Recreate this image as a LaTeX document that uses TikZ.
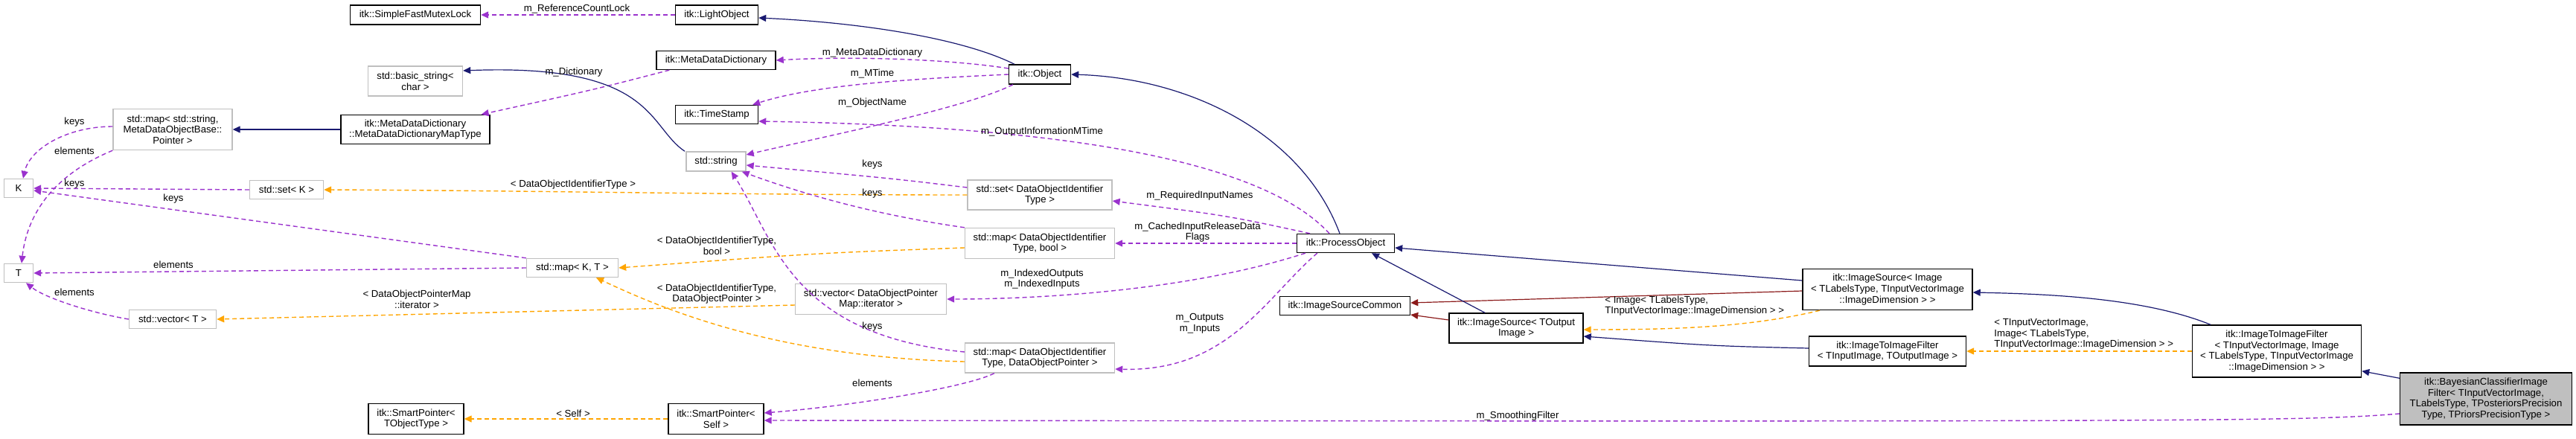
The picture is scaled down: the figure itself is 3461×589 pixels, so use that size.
\documentclass[tikz,border=0pt]{standalone}
\usepackage{fontspec}
\setmainfont{Liberation Sans}
\usetikzlibrary{arrows.meta}
\definecolor{navy}{RGB}{25,25,112}
\definecolor{purp}{RGB}{154,50,205}
\definecolor{orng}{RGB}{255,165,0}
\definecolor{dred}{RGB}{139,26,26}
\definecolor{gbord}{RGB}{191,191,191}
\definecolor{gfill}{RGB}{191,191,191}
\begin{document}
\begin{tikzpicture}[x=0.5pt,y=-0.5pt,
  font=\fontsize{6.6}{7.3}\selectfont,
  box/.style={draw=black,line width=0.7pt,align=center,inner sep=1pt,fill=white},
  gbox/.style={draw=gbord,line width=0.7pt,align=center,inner sep=1pt,fill=white},
  tip/.style={-{Triangle[length=5pt,width=4.5pt]}},
  use/.style={tip,draw=purp,dashed,dash pattern=on 3pt off 2pt,line width=0.7pt},
  tpl/.style={tip,draw=orng,dashed,dash pattern=on 3pt off 2pt,line width=0.7pt},
  inh/.style={tip,draw=navy,line width=0.6pt},
  inr/.style={tip,draw=dred,line width=0.6pt},
  lab/.style={align=center,inner sep=0pt},
  labl/.style={align=left,inner sep=0pt,anchor=west}]
\useasboundingbox (0,0) rectangle (3461,589);
% nodes
\node[box,minimum width=87.5pt,minimum height=13pt] (sfm) at (558,20) {itk::SimpleFastMutexLock};
\node[box,minimum width=55.5pt,minimum height=13pt] (lobj) at (963,20) {itk::LightObject};
\node[box,minimum width=80pt,minimum height=12.5pt] (mdd) at (962,81) {itk::MetaDataDictionary};
\node[box,minimum width=41.5pt,minimum height=13pt] (obj) at (1397,100) {itk::Object};
\node[box,minimum width=55.5pt,minimum height=12.5pt] (ts) at (963,154) {itk::TimeStamp};
\node[gbox,minimum width=40pt,minimum height=13pt] (str) at (962,217) {std::string};
\node[gbox,minimum width=63.5pt,minimum height=20pt] (bstr) at (558,109) {std::basic\_string\textless\\char \textgreater};
\node[gbox,minimum width=80pt,minimum height=27.5pt] (mapss) at (232,174) {std::map\textless{} std::string,\\MetaDataObjectBase::\\Pointer \textgreater};
\node[box,minimum width=100pt,minimum height=19.5pt] (mdmt) at (558,174) {itk::MetaDataDictionary\\::MetaDataDictionaryMapType};
\node[gbox,minimum width=19.5pt,minimum height=12.5pt] (K) at (25,253) {K};
\node[gbox,minimum width=49.5pt,minimum height=12.5pt] (setK) at (385,255) {std::set\textless{} K \textgreater};
\node[gbox,minimum width=19.5pt,minimum height=12.5pt] (T) at (25,367) {T};
\node[gbox,minimum width=61.5pt,minimum height=12.5pt] (mapKT) at (769,360) {std::map\textless{} K, T \textgreater};
\node[gbox,minimum width=58.5pt,minimum height=12.5pt] (vecT) at (232,429) {std::vector\textless{} T \textgreater};
\node[box,minimum width=64pt,minimum height=20.5pt] (spT) at (559,563) {itk::SmartPointer\textless\\TObjectType \textgreater};
\node[box,minimum width=64pt,minimum height=20.5pt] (spS) at (962,563) {itk::SmartPointer\textless\\Self \textgreater};
\node[gbox,minimum width=97pt,minimum height=20pt] (setD) at (1397,262) {std::set\textless{} DataObjectIdentifier\\Type \textgreater};
\node[gbox,minimum width=100.5pt,minimum height=20.5pt] (mapDb) at (1397,327) {std::map\textless{} DataObjectIdentifier\\Type, bool \textgreater};
\node[gbox,minimum width=101.5pt,minimum height=20.5pt] (vecD) at (1170,402) {std::vector\textless{} DataObjectPointer\\Map::iterator \textgreater};
\node[gbox,minimum width=100.5pt,minimum height=20pt] (mapDP) at (1397,481) {std::map\textless{} DataObjectIdentifier\\Type, DataObjectPointer \textgreater};
\node[box,minimum width=65.5pt,minimum height=12.5pt] (po) at (1808,327) {itk::ProcessObject};
\node[box,minimum width=87.5pt,minimum height=12.5pt] (isc) at (1807,411) {itk::ImageSourceCommon};
\node[box,minimum width=90pt,minimum height=20pt] (isT) at (2037,441) {itk::ImageSource\textless{} TOutput\\Image \textgreater};
\node[box,minimum width=114pt,minimum height=27.5pt] (isI) at (2536,389) {itk::ImageSource\textless{} Image\\\textless{} TLabelsType, TInputVectorImage\\::ImageDimension \textgreater{} \textgreater};
\node[box,minimum width=105.5pt,minimum height=20pt] (itiT) at (2536,472) {itk::ImageToImageFilter\\\textless{} TInputImage, TOutputImage \textgreater};
\node[box,minimum width=113.5pt,minimum height=35pt] (itiV) at (3059,472) {itk::ImageToImageFilter\\\textless{} TInputVectorImage, Image\\\textless{} TLabelsType, TInputVectorImage\\::ImageDimension \textgreater{} \textgreater};
\node[box,fill=gfill,minimum width=115.5pt,minimum height=35pt] (bay) at (3340,536) {itk::BayesianClassifierImage\\Filter\textless{} TInputVectorImage,\\TLabelsType, TPosteriorsPrecision\\Type, TPriorsPrecisionType \textgreater};
% edges
\draw[use] (lobj.west) -- (sfm.east);
\draw[inh] ([xshift=-17pt]obj.north) .. controls (1290,50) and (1150,30) .. ([yshift=-2pt]lobj.east);
\draw[use] ([yshift=4pt]obj.west) .. controls (1280,80) and (1150,75) .. (mdd.east);
\draw[use] (obj.west) .. controls (1250,105) and (1100,112) .. ([xshift=-4pt]ts.north east);
\draw[use] ([xshift=3pt]obj.south west) .. controls (1300,145) and (1100,185) .. ([yshift=4.5pt]str.east);
\draw[use] ([xshift=9pt]mdd.south west) .. controls (800,120) .. ([xshift=-6pt]mdmt.north east);
\draw[inh] ([xshift=-21pt]str.north) .. controls (870,170) and (880,85) .. ([yshift=7pt]bstr.east);
\draw[inh] (mdmt.west) -- (mapss.east);
\draw[use] ([yshift=2pt]mapss.west) .. controls (90,170) and (40,200) .. ([xshift=3pt]K.north);
\draw[use] (mapss.south west) .. controls (60,240) and (35,300) .. ([xshift=2pt]T.north);
\draw[use] (setK.west) -- (K.east);
\draw[use] (mapKT.north west) -- ([yshift=-1.5pt]K.east);
\draw[use] (mapKT.west) -- (T.east);
\draw[use] (vecT.west) .. controls (120,420) and (60,400) .. ([xshift=5pt]T.south);
\draw[tpl] (setD.west) .. controls (1000,262) and (700,256) .. (setK.east);
\draw[use] ([yshift=5pt]setD.west) .. controls (1200,240) .. ([yshift=-2.5pt]str.east);
\draw[use] (mapDb.north west) .. controls (1150,285) and (1050,250) .. ([xshift=-3pt]str.south east);
\draw[use] ([yshift=4pt]mapDP.west) .. controls (1060,450) and (1040,320) .. ([xshift=-10pt]str.south east);
\draw[tpl] ([yshift=-3pt]mapDb.west) .. controls (1100,340) .. (mapKT.east);
\draw[tpl] ([yshift=-2.5pt]mapDP.west) .. controls (1050,480) and (900,420) .. ([xshift=16pt]mapKT.south);
\draw[tpl] ([yshift=-4pt]vecD.west) -- (vecT.east);
\draw[use] ([xshift=20pt]mapDP.south west) .. controls (1300,520) and (1150,545) .. ([yshift=4pt]spS.east);
\draw[tpl] (spS.west) -- (spT.east);
\draw[inh] ([xshift=-4pt]po.north) .. controls (1750,180) and (1600,105) .. (obj.east);
\draw[use] ([xshift=-11pt]po.north) .. controls (1700,220) and (1450,170) .. ([yshift=-4.5pt]ts.east);
\draw[use] ([xshift=-24pt]po.north) .. controls (1650,290) .. ([yshift=-4pt]setD.east);
\draw[use] (po.west) -- (mapDb.east);
\draw[use] ([xshift=6pt]po.south west) .. controls (1600,390) and (1400,402) .. (vecD.east);
\draw[use] ([xshift=14pt]po.south west) .. controls (1700,400) and (1650,500) .. ([yshift=-7.5pt]mapDP.east);
\draw[inh] ([yshift=6pt]isI.west) -- ([yshift=-3pt]po.east);
\draw[inr] ([yshift=-1pt]isI.west) -- ([yshift=2pt]isc.east);
\draw[inr] ([yshift=5.5pt]isT.west) -- ([yshift=-6pt]isc.east);
\draw[inh] ([xshift=-21pt]isT.north) -- ([xshift=17.5pt]po.south);
\draw[tpl] ([xshift=-45.5pt]isI.south) .. controls (2350,440) and (2250,443) .. ([yshift=-1pt]isT.east);
\draw[inh] ([yshift=2pt]itiT.west) .. controls (2300,465) .. ([yshift=-5.5pt]isT.east);
\draw[tpl] (itiV.west) -- (itiT.east);
\draw[inh] ([xshift=-44.5pt]itiV.north) .. controls (2880,400) and (2750,395) .. ([yshift=-2pt]isI.east);
\draw[inh] ([yshift=-4pt]bay.north west) -- ([yshift=4.5pt]itiV.south east);
\draw[use] ([yshift=-10pt]bay.west) .. controls (3100,566) and (3000,567) .. ([yshift=-1pt]spS.east);
% labels
\node[lab] (l1) at (775,12) {m\_ReferenceCountLock};
\node[lab] (l2) at (1172,71) {m\_MetaDataDictionary};
\node[lab] (l3) at (1172,99) {m\_MTime};
\node[lab] (l4) at (1172,138) {m\_ObjectName};
\node[lab] (l5) at (771,97) {m\_Dictionary};
\node[lab] (l6) at (100,164) {keys};
\node[lab] (l7) at (100,203) {elements};
\node[lab] (l8) at (100,247) {keys};
\node[lab] (l9) at (233,267) {keys};
\node[lab] (l10) at (233,356) {elements};
\node[lab] (l11) at (100,393) {elements};
\node[lab] (l12) at (770,248) {\textless{} DataObjectIdentifierType \textgreater};
\node[lab] (l13) at (1172,221) {keys};
\node[lab] (l14) at (1172,260) {keys};
\node[lab] (l15) at (1172,439) {keys};
\node[lab] (l16) at (963,330) {\textless{} DataObjectIdentifierType,\\bool \textgreater};
\node[lab] (l17) at (963,395) {\textless{} DataObjectIdentifierType,\\DataObjectPointer \textgreater};
\node[lab] (l18) at (560,402) {\textless{} DataObjectPointerMap\\::iterator \textgreater};
\node[lab] (l19) at (1172,515) {elements};
\node[lab] (l20) at (770,556) {\textless{} Self \textgreater};
\node[lab] (l21) at (1400,177) {m\_OutputInformationMTime};
\node[lab] (l22) at (1612,263) {m\_RequiredInputNames};
\node[lab] (l23) at (1609,312) {m\_CachedInputReleaseData\\Flags};
\node[lab] (l24) at (1400,375) {m\_IndexedOutputs\\m\_IndexedInputs};
\node[lab] (l25) at (1612,435) {m\_Outputs\\m\_Inputs};
\node[labl] (l26) at (2156,411) {\textless{} Image\textless{} TLabelsType,\\TInputVectorImage::ImageDimension \textgreater{} \textgreater};
\node[labl] (l27) at (2679,449) {\textless{} TInputVectorImage,\\Image\textless{} TLabelsType,\\TInputVectorImage::ImageDimension \textgreater{} \textgreater};
\node[lab] (l28) at (2039,559) {m\_SmoothingFilter};
\end{tikzpicture}
\end{document}
